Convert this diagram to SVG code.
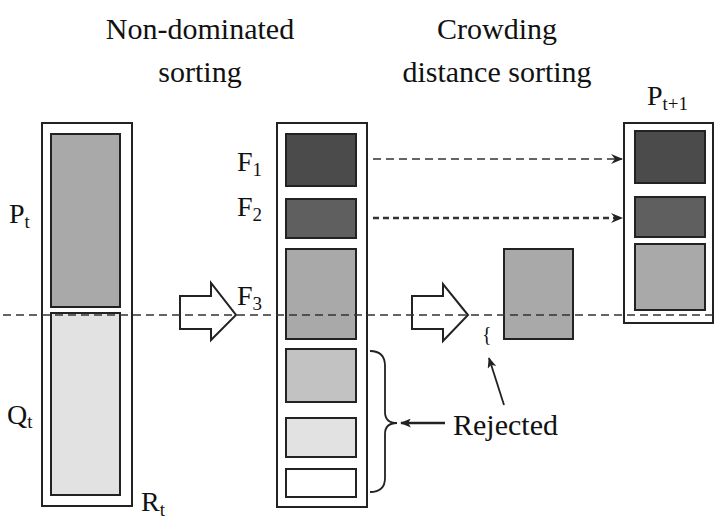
<svg xmlns="http://www.w3.org/2000/svg" width="714" height="521" viewBox="0 0 714 521">
<defs>
<style>
text{font-family:"Liberation Serif","Times New Roman",serif;fill:#111}
.title{font-size:30px}
.lab{font-size:28px}
.sub{font-size:19px}
.outer{fill:#fff;stroke:#222;stroke-width:2}
.in{stroke:#222;stroke-width:2}
.c1{fill:#4b4b4b}.c2{fill:#5f5f5f}.c3{fill:#a9a9a9}.c4{fill:#c2c2c2}.c5{fill:#e2e2e2}.c6{fill:#fff}
.dash{fill:none;stroke:#333;stroke-width:1.6;stroke-dasharray:8 5}
.blk{fill:#fff;stroke:#222;stroke-width:2;stroke-linejoin:miter}
</style>
<marker id="chev" viewBox="0 0 12 10" refX="11" refY="5" markerWidth="12" markerHeight="10" markerUnits="userSpaceOnUse" orient="auto">
<path d="M0,0 L12,5 L0,10 L4,5 z" fill="#222"/>
</marker>
<marker id="solid" viewBox="0 0 12 10" refX="11" refY="5" markerWidth="12" markerHeight="9" markerUnits="userSpaceOnUse" orient="auto">
<path d="M0,0 L12,5 L0,10 L3,5 z" fill="#222"/>
</marker>
</defs>

<g id="titles">
<text class="title" x="200" y="39" text-anchor="middle">Non-dominated</text>
<text class="title" x="200" y="82" text-anchor="middle">sorting</text>
<text class="title" x="497" y="39" text-anchor="middle">Crowding</text>
<text class="title" x="497" y="82" text-anchor="middle">distance sorting</text>
</g>

<g id="Rt">
<rect class="outer" x="42" y="123" width="90" height="383"/>
<rect class="in c3" x="51" y="134" width="69" height="173"/>
<rect class="in c5" x="51" y="313" width="69" height="182"/>
<text class="lab" x="9" y="223">P<tspan class="sub" dy="5">t</tspan></text>
<text class="lab" x="7" y="424">Q<tspan class="sub" dy="4">t</tspan></text>
<text class="lab" x="141" y="511">R<tspan class="sub" dy="5">t</tspan></text>
</g>

<g id="arrow1">
<path class="blk" d="M180,296 L211,296 L211,283 L236,315 L211,340 L211,329 L180,329 Z"/>
</g>

<g id="fronts">
<rect class="outer" x="277" y="123" width="90" height="384"/>
<rect class="in c1" x="286" y="134" width="70" height="52"/>
<rect class="in c2" x="286" y="199" width="70" height="39"/>
<rect class="in c3" x="286" y="249" width="70" height="90"/>
<rect class="in c4" x="286" y="349" width="70" height="53"/>
<rect class="in c5" x="286" y="418" width="70" height="39"/>
<rect class="in c6" x="286" y="469" width="70" height="28"/>
<text class="lab" x="237" y="171">F<tspan class="sub" dy="5">1</tspan></text>
<text class="lab" x="237" y="216">F<tspan class="sub" dy="5">2</tspan></text>
<text class="lab" x="237" y="305">F<tspan class="sub" dy="5">3</tspan></text>
</g>

<g id="arrow2">
<path class="blk" d="M412,296 L443,296 L443,284 L468,315 L443,341 L443,329 L412,329 Z"/>
</g>

<g id="F3sorted">
<rect class="in c3" x="504" y="249" width="69" height="90"/>
<text x="482" y="341" font-size="20" fill="#222">{</text>
</g>

<g id="Pt1">
<rect class="outer" x="624" y="123" width="89" height="200"/>
<rect class="in c1" x="635" y="131" width="70" height="52"/>
<rect class="in c2" x="635" y="197" width="70" height="40"/>
<rect class="in c3" x="635" y="244" width="70" height="66"/>
<text class="lab" x="647" y="105">P<tspan class="sub" dy="5">t+1</tspan></text>
</g>

<g id="rejected">
<text x="453" y="435" font-size="30">Rejected</text>
</g>

<g id="connectors">
<line class="dash" x1="3" y1="315" x2="714" y2="315"/>
<line class="dash" x1="373" y1="159" x2="622" y2="159" marker-end="url(#chev)"/>
<line x1="373" y1="218" x2="622" y2="218" fill="none" stroke="#333" stroke-width="2.6" stroke-dasharray="6 4" marker-end="url(#chev)"/>
<path d="M370,351 Q385,351 385,366 L385,412 Q385,423 397,423 Q385,423 385,434 L385,478 Q385,492 370,492" fill="none" stroke="#222" stroke-width="1.8"/>
<line x1="445" y1="423" x2="401" y2="423" stroke="#222" stroke-width="2.5" marker-end="url(#solid)"/>
<line x1="504" y1="405" x2="489" y2="358" stroke="#222" stroke-width="1.8" marker-end="url(#solid)"/>
</g>
</svg>
